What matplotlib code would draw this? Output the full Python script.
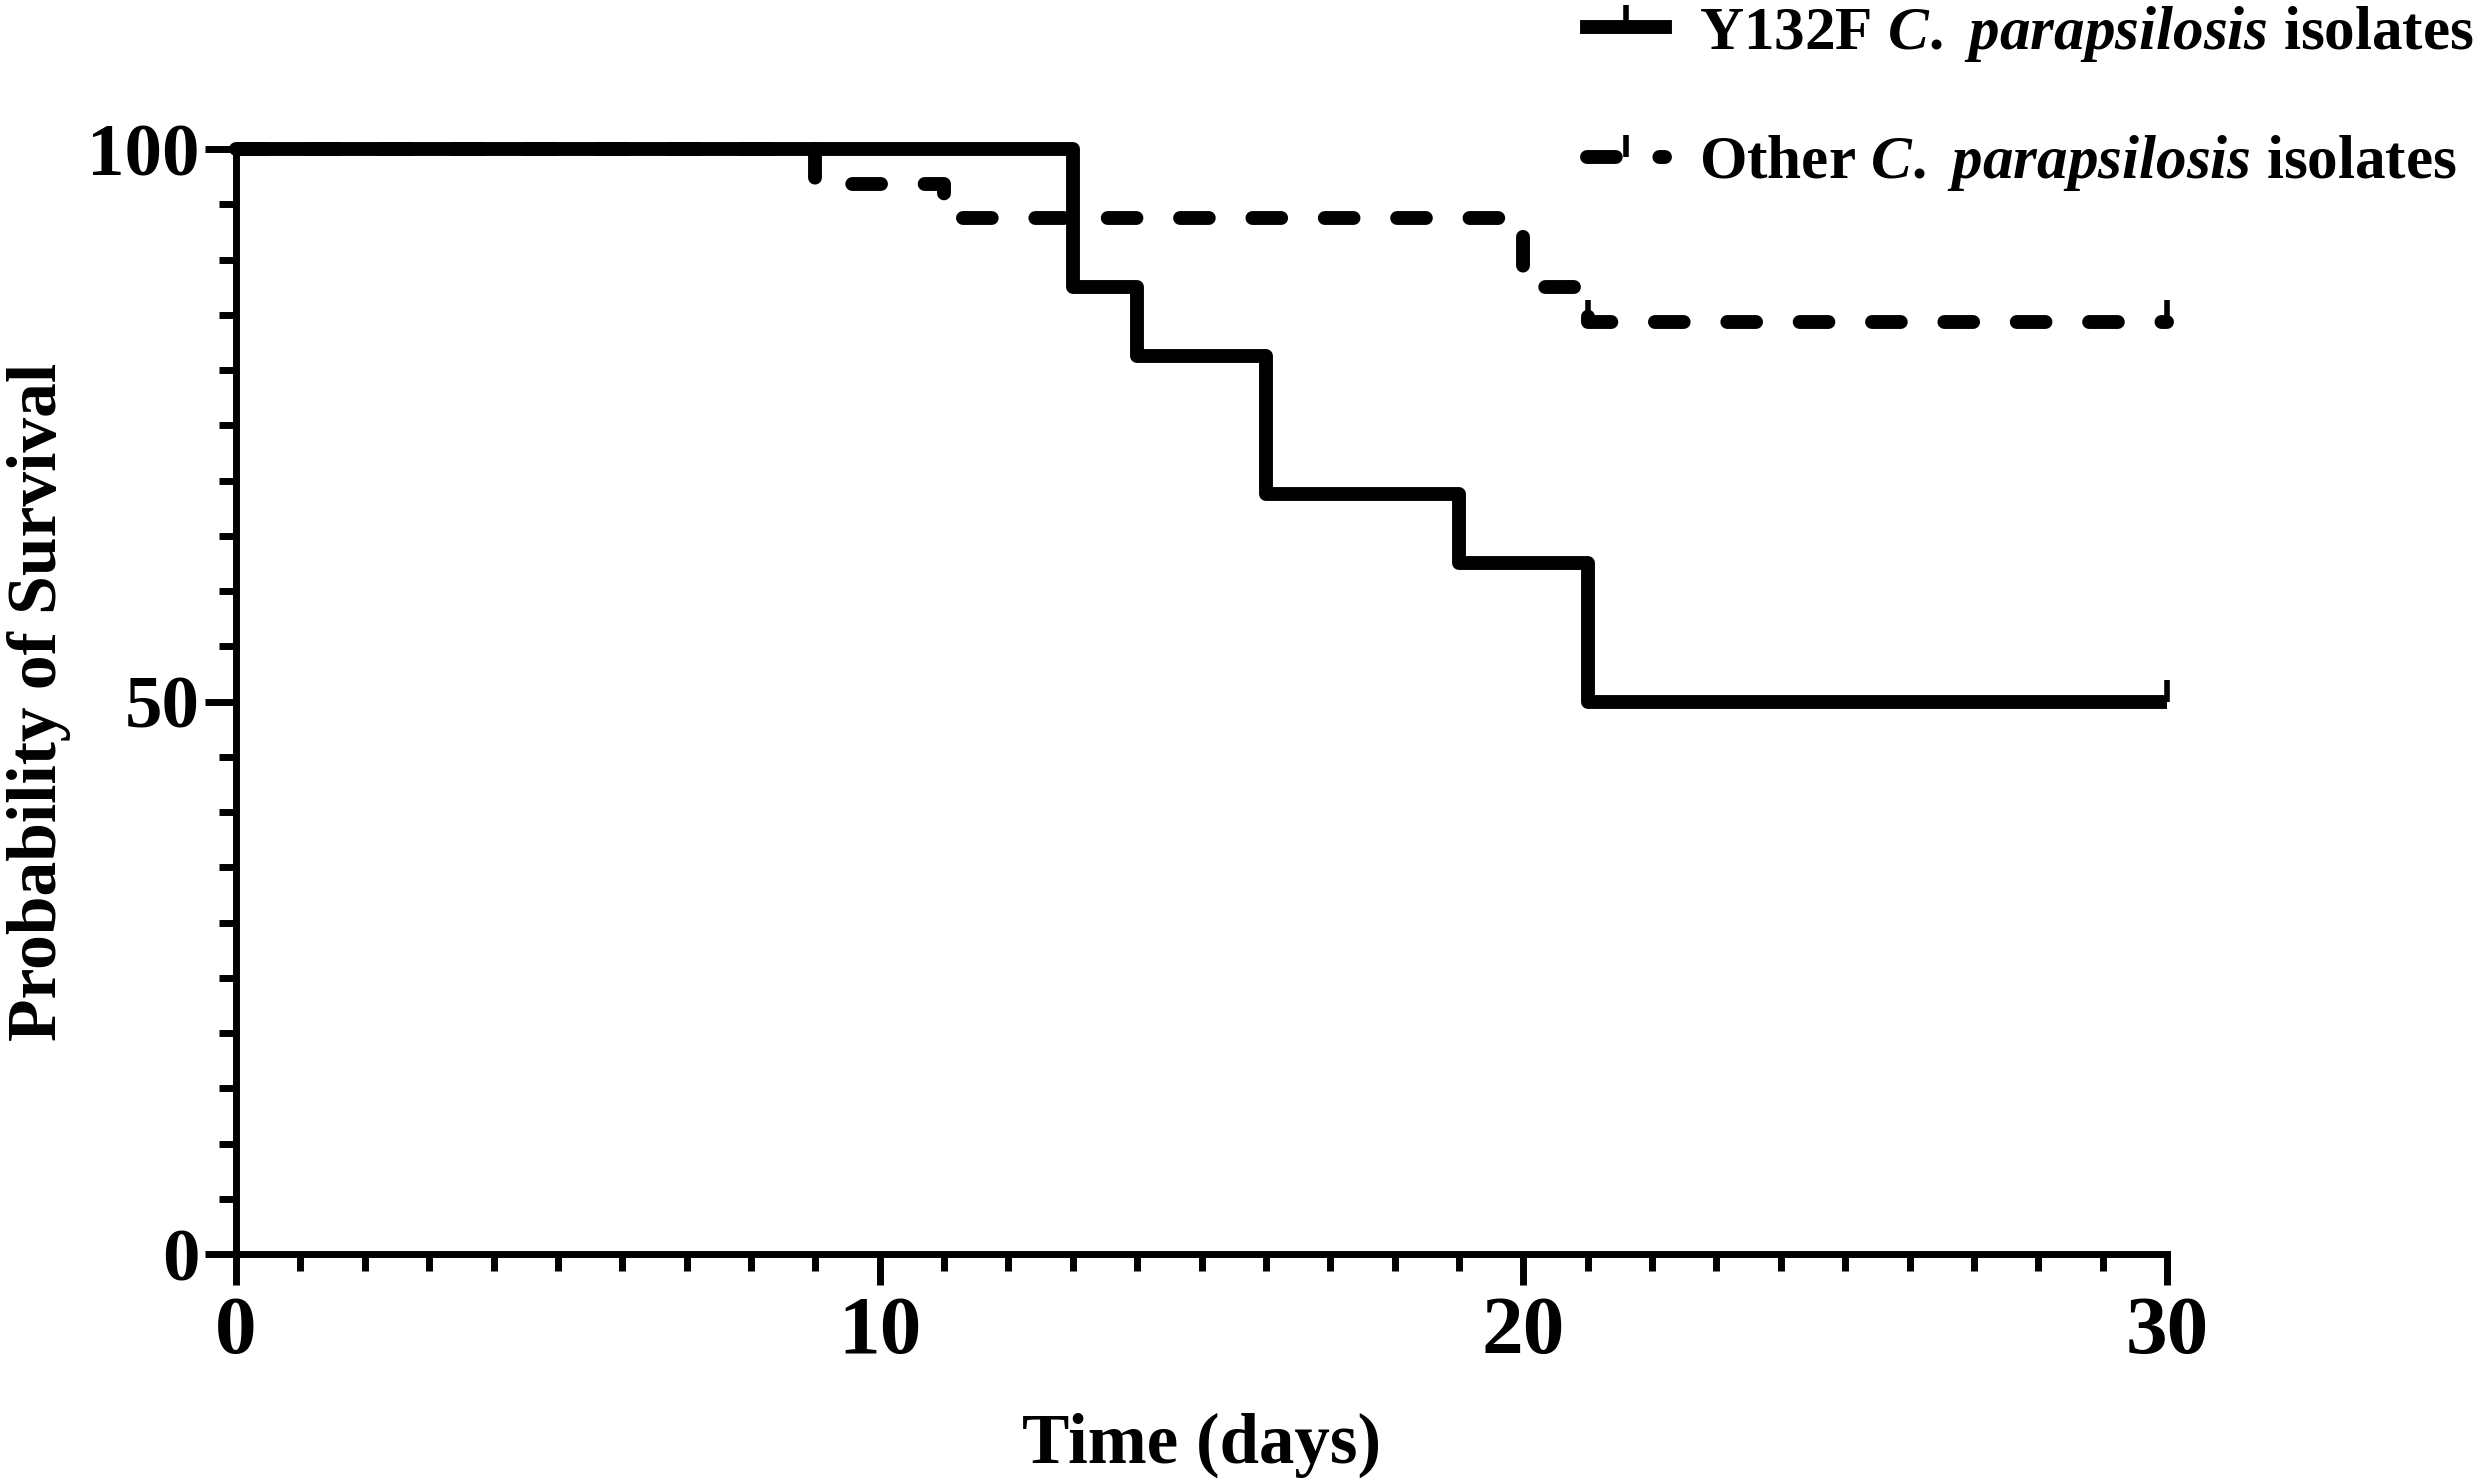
import matplotlib
matplotlib.use("Agg")
import matplotlib.pyplot as plt
from matplotlib.lines import Line2D

# ---- data ----
y132f_times = [0, 13, 14, 16, 19, 21, 30]
y132f_surv = [100, 87.5, 81.25, 68.75, 62.5, 50, 50]
y132f_censor_t = [30]
y132f_censor_s = [50]

other_times = [0, 9, 11, 20, 21, 30]
other_surv = [100, 96.88, 93.75, 87.5, 84.38, 84.38]
other_censor_t = [21, 30]
other_censor_s = [84.38, 84.38]

x_ticks = [0, 10, 20, 30]
y_ticks = [0, 50, 100]
labels = [r"Y132F $\mathit{C.\ parapsilosis}$ isolates",
          r"Other $\mathit{C.\ parapsilosis}$ isolates"]

plt.rcParams['font.family'] = ['Liberation Serif', 'DejaVu Serif']
plt.rcParams['font.weight'] = 'bold'
plt.rcParams['mathtext.fontset'] = 'custom'
plt.rcParams['mathtext.it'] = 'Liberation Serif:italic:bold'
plt.rcParams['mathtext.rm'] = 'Liberation Serif:bold'

fig = plt.figure(figsize=(24.8, 14.83), dpi=100)
ax = fig.add_axes([0.0952, 0.1544, 0.8738 - 0.0952, 0.8995 - 0.1544])

lw = 10
dash = (0, (2.07, 3.14))
ax.step(other_times, other_surv, where='post', color='black', lw=lw,
        linestyle=dash, dash_capstyle='round', clip_on=False, zorder=3)
ax.step(y132f_times, y132f_surv, where='post', color='black', lw=lw,
        solid_capstyle='butt', clip_on=False, zorder=4)
ax.plot(y132f_censor_t, y132f_censor_s, linestyle='none', marker=2,
        markersize=16, markeredgewidth=4, color='black', clip_on=False, zorder=5)
ax.plot(other_censor_t, other_censor_s, linestyle='none', marker=2,
        markersize=16, markeredgewidth=4, color='black', clip_on=False, zorder=5)

ax.set_xlim(0, 30)
ax.set_ylim(0, 100)
for s in ['top', 'right']:
    ax.spines[s].set_visible(False)
for s in ['left', 'bottom']:
    ax.spines[s].set_linewidth(5)

ax.set_xticks(x_ticks)
ax.set_yticks(y_ticks)
ax.set_xticks(range(0, 31), minor=True)
ax.set_yticks(range(0, 101, 5), minor=True)
ax.tick_params(axis='both', which='major', length=22, width=5, direction='out')
ax.tick_params(axis='both', which='minor', length=12, width=5, direction='out')
ax.tick_params(axis='x', which='major', labelsize=60, pad=8)
ax.tick_params(axis='y', which='major', labelsize=54, pad=4)
for t in ax.get_xticklabels() + ax.get_yticklabels():
    t.set_fontweight('bold')

ax.set_xlabel("Time (days)", fontsize=51, fontweight='bold', labelpad=30)
ax.set_ylabel("Probability of Survival", fontsize=50, fontweight='bold', labelpad=12)

h1 = Line2D([], [], color='black', lw=lw, marker=2, markersize=16, markeredgewidth=4)
h2 = Line2D([], [], color='black', lw=lw, linestyle=dash, dash_capstyle='round',
            marker=2, markersize=16, markeredgewidth=4)
fig.legend([h1, h2], labels, loc='upper left', bbox_to_anchor=(0.630, 1.014),
           frameon=False, fontsize=44, handlelength=1.28, handletextpad=0.56,
           labelspacing=1.14, borderaxespad=0)

fig.savefig("out.png", dpi=100)
